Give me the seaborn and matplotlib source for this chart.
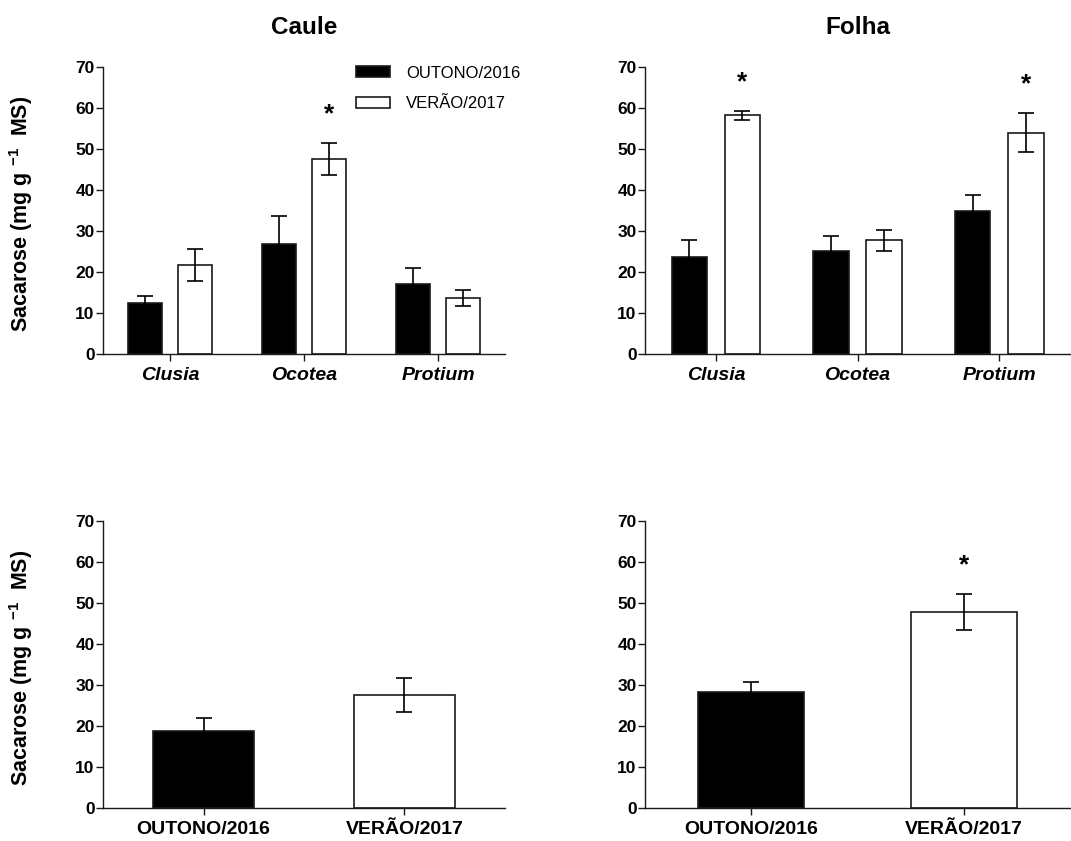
import matplotlib
matplotlib.use("Agg")
import matplotlib.pyplot as plt
import pandas as pd
import seaborn as sns

species = ["Clusia", "Ocotea", "Protium"]
seasons = ["OUTONO/2016", "VERÃO/2017"]

# Caule (stem), per species
caule_outono = [12.4, 26.9, 17.2]
caule_outono_se = [1.8, 6.7, 3.9]
caule_verao = [21.7, 47.5, 13.6]
caule_verao_se = [3.9, 3.9, 2.0]
caule_sig = [False, True, False]

# Folha (leaf), per species
folha_outono = [23.6, 25.2, 35.0]
folha_outono_se = [4.2, 3.7, 3.8]
folha_verao = [58.2, 27.7, 54.0]
folha_verao_se = [1.0, 2.5, 4.8]
folha_sig = [True, False, True]

# pooled species, per season
caule_total = [18.8, 27.5]
caule_total_se = [3.1, 4.2]
caule_total_sig = [False, False]
folha_total = [28.2, 47.7]
folha_total_se = [2.5, 4.4]
folha_total_sig = [False, True]

season_colors = {"OUTONO/2016": "black", "VERÃO/2017": "white"}
EDGE = "#1a1a1a"
YLABEL = r"Sacarose (mg g $^{\mathbf{-1}}$  MS)"


def species_frame(outono, verao):
    return pd.DataFrame({
        "especie": species * 2,
        "estacao": [seasons[0]] * 3 + [seasons[1]] * 3,
        "sacarose": outono + verao,
    })


def add_errors_and_stars(ax, containers, errors, sig):
    """Error bars from the drawn bars; stars over the significant VERÃO bars."""
    for container, err in zip(containers, errors):
        for bar, e in zip(container, err):
            x = bar.get_x() + bar.get_width() / 2
            y = bar.get_height()
            ax.errorbar(x, y, yerr=e, color="black", capsize=6, elinewidth=1.2,
                        capthick=1.2, zorder=3)
    last = containers[-1]
    last_err = errors[-1]
    for bar, e, s in zip(last, last_err, sig):
        if s:
            x = bar.get_x() + bar.get_width() / 2
            ax.text(x, bar.get_height() + e + 7.0, "*", ha="center", va="center",
                    fontsize=19, fontweight="bold")


def style_axis(ax, italic):
    ax.set_ylim(0, 70)
    ax.set_yticks(range(0, 71, 10))
    ax.set_xlabel("")
    ax.set_ylabel("")
    sns.despine(ax=ax)
    for side in ["left", "bottom"]:
        ax.spines[side].set_linewidth(1.0)
        ax.spines[side].set_color(EDGE)
    ax.tick_params(axis="y", length=5, width=1.0, color=EDGE, labelsize=12.5, pad=1)
    ax.tick_params(axis="x", length=5, width=1.0, color=EDGE, labelsize=14, pad=4)
    for lab in ax.get_yticklabels():
        lab.set_fontweight("bold")
    for lab in ax.get_xticklabels():
        lab.set_fontweight("bold")
        if italic:
            lab.set_fontstyle("italic")


def plot_species(ax, outono, outono_se, verao, verao_se, sig, title, legend):
    df = species_frame(outono, verao)
    sns.barplot(data=df, x="especie", y="sacarose", hue="estacao", ax=ax,
                palette=season_colors, edgecolor=EDGE, linewidth=1.2,
                width=0.75, gap=0.333, errorbar=None, legend=legend)
    containers = list(ax.containers)
    add_errors_and_stars(ax, containers, [outono_se, verao_se], sig)
    ax.set_xlim(-0.5, 2.5)
    style_axis(ax, italic=True)
    ax.set_title(title, fontsize=17.5, fontweight="bold", pad=24)
    if legend:
        handles, labels = ax.get_legend_handles_labels()
        ax.legend(handles, labels, loc="upper left", bbox_to_anchor=(0.63, 1.005),
                  frameon=False, fontsize=12, handlelength=2.0, handleheight=0.6,
                  handletextpad=1.0, labelspacing=0.95, borderpad=0,
                  borderaxespad=0)


def plot_total(ax, values, errors, sig):
    df = pd.DataFrame({"estacao": seasons, "sacarose": values})
    sns.barplot(data=df, x="estacao", y="sacarose", hue="estacao", ax=ax,
                palette=season_colors, edgecolor=EDGE, linewidth=1.2,
                width=0.5, errorbar=None, legend=False)
    containers = list(ax.containers)
    add_errors_and_stars(ax, containers, [[errors[0]], [errors[1]]], [sig[1]])
    ax.set_xlim(-0.5, 1.5)
    style_axis(ax, italic=False)


def main():
    sns.set_style("ticks")
    plt.rcParams["font.family"] = ["Liberation Sans", "DejaVu Sans"]
    plt.rcParams["mathtext.fontset"] = "custom"
    plt.rcParams["mathtext.rm"] = "Liberation Sans"
    plt.rcParams["mathtext.bf"] = "Liberation Sans:bold"
    for key in ["text.color", "axes.labelcolor", "xtick.labelcolor", "ytick.labelcolor"]:
        plt.rcParams[key] = "black"

    fig = plt.figure(figsize=(10.71, 8.41), dpi=100)
    ax_caule = fig.add_axes([0.0962, 0.579, 0.3753, 0.3413])
    ax_folha = fig.add_axes([0.6022, 0.579, 0.397, 0.3413])
    ax_caule_t = fig.add_axes([0.0962, 0.0392, 0.3753, 0.3413])
    ax_folha_t = fig.add_axes([0.6022, 0.0392, 0.397, 0.3413])

    plot_species(ax_caule, caule_outono, caule_outono_se, caule_verao,
                 caule_verao_se, caule_sig, "Caule", legend=True)
    plot_species(ax_folha, folha_outono, folha_outono_se, folha_verao,
                 folha_verao_se, folha_sig, "Folha", legend=False)
    plot_total(ax_caule_t, caule_total, caule_total_se, caule_total_sig)
    plot_total(ax_folha_t, folha_total, folha_total_se, folha_total_sig)

    for ax in [ax_caule, ax_caule_t]:
        ax.set_ylabel(YLABEL, fontsize=15.5, fontweight="bold")
        ax.yaxis.set_label_coords(-0.17, 0.49)

    fig.savefig("out.png", dpi=100)
    plt.close(fig)


if __name__ == "__main__":
    main()
